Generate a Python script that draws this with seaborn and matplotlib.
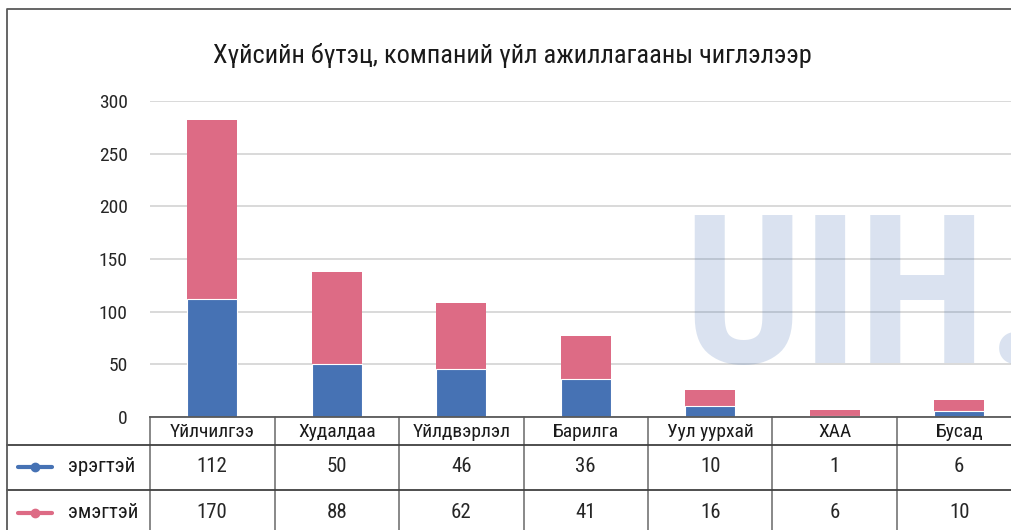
import numpy as np
import pandas as pd
import seaborn as sns
import matplotlib.pyplot as plt
from matplotlib.transforms import blended_transform_factory

# chart data
categories = ["Үйлчилгээ", "Худалдаа", "Үйлдвэрлэл", "Барилга", "Уул уурхай", "ХАА", "Бусад"]
male = [112, 50, 46, 36, 10, 1, 6]
female = [170, 88, 62, 41, 16, 6, 10]
series_names = ["эрэгтэй", "эмэгтэй"]
yticks = [0, 50, 100, 150, 200, 250, 300]
title = "Хүйсийн бүтэц, компаний үйл ажиллагааны чиглэлээр"
watermark = "UIH.MN"

colors = ["#4672B4", "#DD6B85"]
W, H = 1011, 530


def fy(py):
    # pixel row (from top) -> figure fraction
    return 1 - py / H


def main():
    sns.set_style("white")
    plt.rcParams['font.family'] = ['Roboto Condensed', 'Liberation Sans Narrow',
                                   'Roboto', 'DejaVu Sans']

    fig = plt.figure(figsize=(W / 100, H / 100), dpi=100)
    ax = fig.add_axes([150 / W, fy(417), 871.5 / W, 316 / H])

    df = pd.DataFrame({"cat": categories, "male": male,
                       "total": np.add(male, female)})

    # stacked bars: total (pink) behind, male (blue) in front
    sns.barplot(data=df, x="cat", y="total", order=categories, color=colors[1],
                width=0.4, saturation=1, errorbar=None, linewidth=0, ax=ax)
    sns.barplot(data=df, x="cat", y="male", order=categories, color=colors[0],
                width=0.4, saturation=1, errorbar=None, edgecolor="white",
                linewidth=0.8, ax=ax)

    ax.set_xlim(-0.5, 6.5)
    ax.set_ylim(0, 300)
    ax.set_yticks(yticks)
    ax.set_xticks([])
    ax.set_xlabel("")
    ax.set_ylabel("")
    ax.yaxis.grid(True, color="#d9d9d9", linewidth=1.4)
    ax.set_axisbelow(True)
    for s in ["top", "right", "left"]:
        ax.spines[s].set_visible(False)
    ax.spines["bottom"].set_color("#595959")
    ax.spines["bottom"].set_linewidth(1.3)
    ax.tick_params(axis="y", length=0, pad=16, labelsize=14, labelcolor="#262626")

    # faint watermark over the plot area
    ax.text((683 - 150) / 871.5, (417 - 363) / 316, watermark, transform=ax.transAxes,
            fontsize=150, fontweight="bold", color=colors[0], alpha=0.2,
            ha="left", va="baseline", clip_on=True, zorder=5)

    fig.text(512 / W, fy(55), title, ha="center", va="center",
             fontsize=19, color="#1a1a1a")

    # data table below the axis
    tr = blended_transform_factory(ax.transData, fig.transFigure)
    line_kw = dict(color="#7f7f7f", linewidth=1.3, clip_on=False)
    for i in range(len(categories) + 1):
        ax.plot([i - 0.5, i - 0.5], [fy(417), 0], transform=tr, **line_kw)
    for py in [445, 490]:
        fig.add_artist(plt.Line2D([7 / W, 1], [fy(py), fy(py)], color="#404040",
                                  linewidth=1.3))
    # outer chart border (left and top)
    fig.add_artist(plt.Line2D([7 / W, 7 / W, 1], [0, fy(9), fy(9)],
                              color="#595959", linewidth=1.3))

    for i, cat in enumerate(categories):
        ax.text(i, fy(432), cat, transform=tr, ha="center", va="center",
                fontsize=14, color="#1a1a1a")
        ax.text(i, fy(467), str(male[i]), transform=tr, ha="center", va="center",
                fontsize=15, color="#262626")
        ax.text(i, fy(513), str(female[i]), transform=tr, ha="center", va="center",
                fontsize=15, color="#262626")

    # legend keys inside the table
    for name, col, py in zip(series_names, colors, [467, 513]):
        fig.add_artist(plt.Line2D([18 / W, 52 / W], [fy(py), fy(py)], color=col,
                                  linewidth=3))
        fig.add_artist(plt.Line2D([35 / W], [fy(py)], color=col, marker="o",
                                  markersize=6, linestyle="none"))
        fig.text(68 / W, fy(py), name, ha="left", va="center", fontsize=15,
                 color="#1a1a1a")

    fig.savefig("out.png", dpi=100)


if __name__ == '__main__':
    main()
